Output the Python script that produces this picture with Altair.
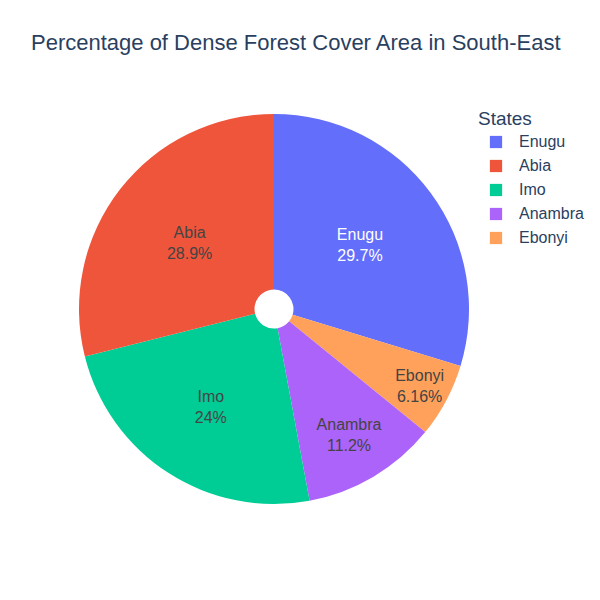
import altair as alt
import pandas as pd

states = ["Enugu", "Abia", "Imo", "Anambra", "Ebonyi"]
percent = [29.7, 28.9, 24.0, 11.2, 6.16]
pct_labels = ["29.7%", "28.9%", "24%", "11.2%", "6.16%"]
clockwise = ["Enugu", "Ebonyi", "Anambra", "Imo", "Abia"]
colors = ["#636efa", "#EF553B", "#00cc96", "#ab63fa", "#FFA15A"]
title_text = "Percentage of Dense Forest Cover Area in South-East"

FONT = "Liberation Sans, Arial, sans-serif"


def label_radius(p):
    # inside-label placement: smaller slices push their labels outward
    if p >= 25:
        return 107
    if p >= 20:
        return 117
    if p >= 10:
        return 147
    return 165


df = pd.DataFrame({"state": states, "pct": percent, "pct_label": pct_labels})
df["slice_order"] = df["state"].map({s: i for i, s in enumerate(clockwise)})
df = df.sort_values("slice_order").reset_index(drop=True)
df["end"] = df["pct"].cumsum()
df["start"] = df["end"] - df["pct"]
df["mid"] = df["start"] + df["pct"] / 2
df["lr"] = [label_radius(p) for p in df["pct"]]
total = float(df["pct"].sum())

CX, CY = 266, 301
theta_scale = alt.Scale(domain=[0, total], range=[0, 6.283185307])

arcs = alt.Chart(df).mark_arc(outerRadius=195, innerRadius=19.5).encode(
    theta=alt.Theta("start:Q", scale=theta_scale),
    theta2="end:Q",
    color=alt.Color(
        "state:N",
        scale=alt.Scale(domain=states, range=colors),
        legend=alt.Legend(
            title="States",
            orient="none",
            legendX=470,
            legendY=102,
            titleFontSize=19,
            titleFontWeight="normal",
            titleColor="#2a3f5f",
            titleFont=FONT,
            titlePadding=5,
            labelFont=FONT,
            labelFontSize=16,
            labelColor="#2a3f5f",
            labelOffset=15,
            symbolType="square",
            symbolSize=150,
            symbolStrokeWidth=0,
            symbolOpacity=1,
            symbolOffset=10,
            rowPadding=8,
        ),
    ),
    x=alt.value(CX),
    y=alt.value(CY),
)

txt_color = alt.condition(alt.datum.state == "Enugu", alt.value("white"), alt.value("#444444"))

name_txt = alt.Chart(df).mark_text(fontSize=16, font=FONT, dy=-10.5).encode(
    theta=alt.Theta("mid:Q", scale=theta_scale),
    text="state:N",
    radius=alt.Radius("lr:Q", scale=None),
    color=txt_color,
    x=alt.value(CX),
    y=alt.value(CY),
)

pct_txt = alt.Chart(df).mark_text(fontSize=16, font=FONT, dy=10.5).encode(
    theta=alt.Theta("mid:Q", scale=theta_scale),
    text="pct_label:N",
    radius=alt.Radius("lr:Q", scale=None),
    color=txt_color,
    x=alt.value(CX),
    y=alt.value(CY),
)

title = alt.Chart(pd.DataFrame({"t": [title_text]})).mark_text(
    align="left", baseline="middle", fontSize=22, font=FONT, color="#2a3f5f"
).encode(text="t:N", x=alt.value(23), y=alt.value(35))

chart = alt.layer(arcs, name_txt, pct_txt, title).properties(
    width=584, height=584, padding=0, autosize="none"
).configure_view(stroke=None)

chart.save("out.html", embed_options={"renderer": "svg", "actions": False})
